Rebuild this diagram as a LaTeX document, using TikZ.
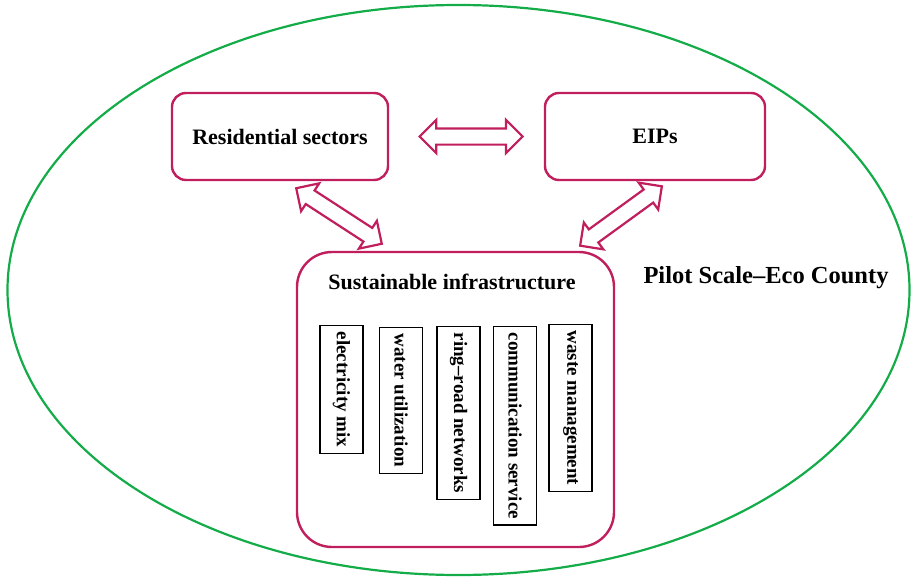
\documentclass[tikz,border=0pt]{standalone}
\usepackage{fontspec}
\setmainfont{Liberation Serif}
\usetikzlibrary{shapes.arrows,positioning,calc}
\definecolor{ringgreen}{RGB}{20,172,72}
\definecolor{sectorred}{RGB}{192,30,92}

\tikzset{
  sectorbox/.style={draw=sectorred,line width=2.4pt,rounded corners=14pt,
    font=\fontsize{22}{26}\selectfont\bfseries},
  partbox/.style={draw=black,line width=1.3pt,rotate=-90,anchor=west,
    minimum height=43pt,inner xsep=6pt,font=\fontsize{19}{22}\selectfont\bfseries},
  linkarrow/.style={shape=double arrow,draw=sectorred,line width=2.2pt,fill=white,
    inner sep=7pt,double arrow head extend=8.5pt,double arrow head indent=0pt}
}

\begin{document}
\begin{tikzpicture}[x=1pt,y=1pt]
  \useasboundingbox (0,0) rectangle (915,-578);
  % county boundary
  \draw[ringgreen,line width=2.2pt] (458.5,-290) ellipse [x radius=451,y radius=285];
  \node[font=\fontsize{24.5}{28}\selectfont\bfseries] (county) at (766,-278) {Pilot Scale--Eco County};

  % sectors
  \node[sectorbox,minimum width=216pt,minimum height=87pt] (res) at (280,-136.5) {Residential sectors};
  \node[sectorbox,minimum width=220pt,minimum height=87pt] (eip) at (655,-136.5) {EIPs};
  \node[sectorbox,rounded corners=35pt,minimum width=317pt,minimum height=295pt] (sus) at (455.5,-399.5) {};
  \node[font=\fontsize{22}{26}\selectfont\bfseries] (sustitle) at (452,-282) {Sustainable infrastructure};

  % infrastructure parts
  \node[partbox] (elec)  at (341.5,-325) {electricity mix};
  \node[partbox] (water) at (401,-327)   {water utilization};
  \node[partbox] (ring)  at (458.5,-326) {ring--road networks};
  \node[partbox] (comm)  at (515,-326)   {communication service};
  \node[partbox] (waste) at (570.5,-324) {waste management};

  % links
  \node[linkarrow,minimum height=103pt] (reseip) at ($(res.east)!.53!(eip.west)$) {};
  \node[linkarrow,minimum height=102pt,rotate=-33] (ressus) at (339,-216) {};
  \node[linkarrow,minimum height=101pt,rotate=36] (eipsus) at (621,-216) {};
\end{tikzpicture}
\end{document}
